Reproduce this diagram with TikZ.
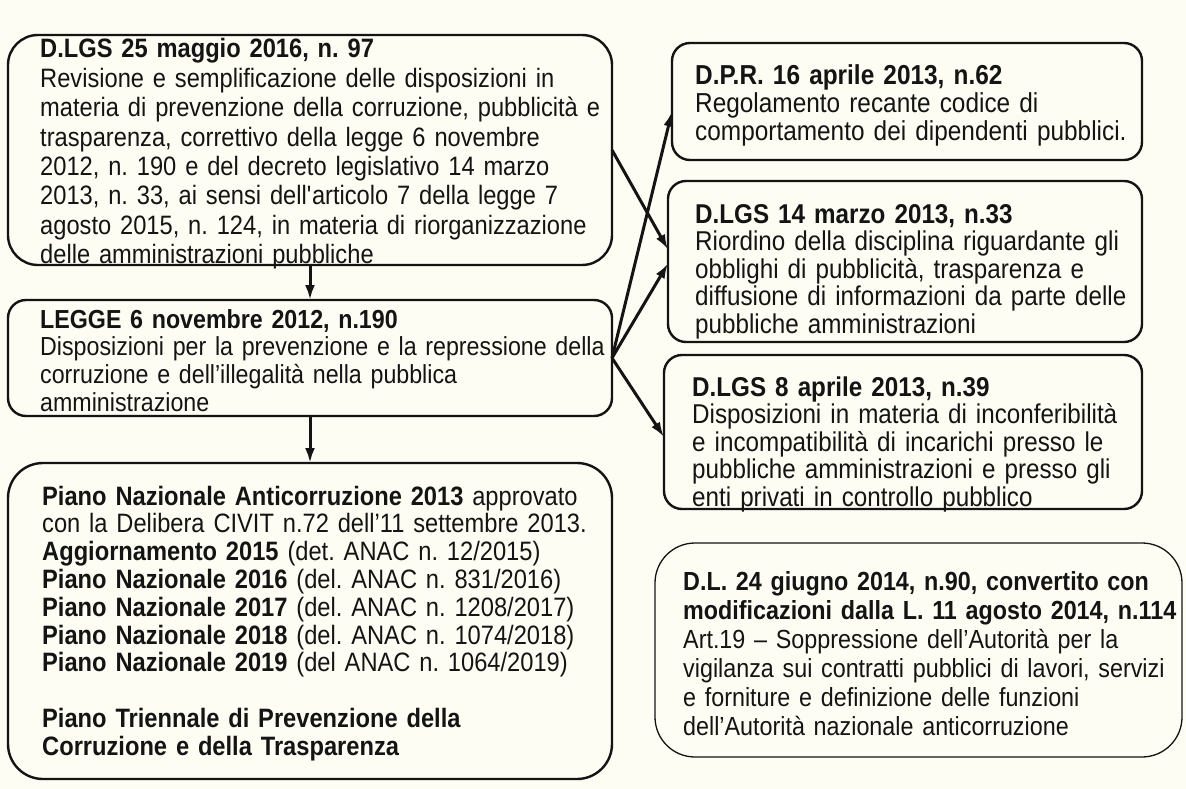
\documentclass[tikz,border=0pt]{standalone}
\usepackage{fontspec}
\setmainfont{Liberation Sans}[FakeStretch=0.89]
\usetikzlibrary{arrows.meta}
\definecolor{bgc}{RGB}{253,253,244}
\definecolor{ink}{RGB}{20,20,20}
\definecolor{headgray}{RGB}{110,110,110}
\frenchspacing
\begin{document}
\begin{tikzpicture}[x=1pt,y=-1pt,
  frame/.style={draw=ink, line width=2.4pt, anchor=north west, inner sep=0pt, outer sep=0pt},
  thinframe/.style={draw=ink, line width=1.3pt, anchor=north west, inner sep=0pt, outer sep=0pt},
  txt/.style={anchor=base west, inner sep=0pt, align=left, text=ink},
  arr/.style={draw=ink, line width=3pt, -{Latex[length=15pt,width=10pt]}},
  garr/.style={draw=ink, line width=3pt, -{Latex[length=15pt,width=10pt,fill=headgray]}}
]
\fill[bgc] (0,0) rectangle (1186,789);
\useasboundingbox (0,0) rectangle (1186,789);

% left column
\node[frame, rounded corners=30pt, minimum width=604pt, minimum height=230pt] (A) at (8,35) {};
\node[txt, text width=575pt, font=\fontsize{26.6}{29.4}\selectfont] (At) at (40,58) {\textbf{D.LGS 25 maggio 2016, n. 97}\\
Revisione e semplificazione delle disposizioni in\\
materia di prevenzione della corruzione, pubblicità e\\
trasparenza, correttivo della legge 6 novembre\\
2012, n. 190 e del decreto legislativo 14 marzo\\
2013, n. 33, ai sensi dell\textquotesingle articolo 7 della legge 7\\
agosto 2015, n. 124, in materia di riorganizzazione\\
delle amministrazioni pubbliche};

\node[frame, rounded corners=18pt, minimum width=604pt, minimum height=116pt] (B) at (8,300) {};
\node[txt, text width=575pt, font=\fontsize{26.1}{27.7}\selectfont] (Bt) at (40,328) {\textbf{LEGGE 6 novembre 2012, n.190}\\
Disposizioni per la prevenzione e la repressione della\\
corruzione e dell’illegalità nella pubblica\\
amministrazione};

\node[frame, rounded corners=35pt, minimum width=604pt, minimum height=316pt] (C) at (8,463) {};
\node[txt, text width=575pt, font=\fontsize{26.6}{27.8}\selectfont] (Ct) at (42,505) {\textbf{Piano Nazionale Anticorruzione 2013} approvato\\
con la Delibera CIVIT n.72 dell’11 settembre 2013.\\
\textbf{Aggiornamento 2015} (det. ANAC n. 12/2015)\\
\textbf{Piano Nazionale 2016} (del. ANAC n. 831/2016)\\
\textbf{Piano Nazionale 2017} (del. ANAC n. 1208/2017)\\
\textbf{Piano Nazionale 2018} (del. ANAC n. 1074/2018)\\
\textbf{Piano Nazionale 2019} (del ANAC n. 1064/2019)\\[27.8pt]
\textbf{Piano Triennale di Prevenzione della}\\
\textbf{Corruzione e della Trasparenza}};

% right column
\node[frame, rounded corners=18pt, minimum width=470pt, minimum height=117pt] (R1) at (672,43) {};
\node[txt, text width=445pt, font=\fontsize{27.4}{28}\selectfont] (R1t) at (695,85) {\textbf{D.P.R. 16 aprile 2013, n.62}\\
Regolamento recante codice di\\
comportamento dei dipendenti pubblici.};

\node[frame, rounded corners=18pt, minimum width=474pt, minimum height=161pt] (R2) at (668,181) {};
\node[txt, text width=445pt, font=\fontsize{27.2}{27.5}\selectfont] (R2t) at (695,223) {\textbf{D.LGS 14 marzo 2013, n.33}\\
Riordino della disciplina riguardante gli\\
obblighi di pubblicità, trasparenza e\\
diffusione di informazioni da parte delle\\
pubbliche amministrazioni};

\node[frame, rounded corners=18pt, minimum width=478pt, minimum height=154pt] (R3) at (664,355) {};
\node[txt, text width=445pt, font=\fontsize{27.2}{27.5}\selectfont] (R3t) at (692,396) {\textbf{D.LGS 8 aprile 2013, n.39}\\
Disposizioni in materia di inconferibilità\\
e incompatibilità di incarichi presso le\\
pubbliche amministrazioni e presso gli\\
enti privati in controllo pubblico};

\node[thinframe, rounded corners=40pt, minimum width=527pt, minimum height=214pt] (R4) at (655,543) {};
\node[txt, text width=505pt, font=\fontsize{26.2}{29}\selectfont] (R4t) at (683,590) {\textbf{D.L. 24 giugno 2014, n.90, convertito con}\\
\textbf{modificazioni dalla L. 11 agosto 2014, n.114}\\
Art.19 – Soppressione dell’Autorità per la\\
vigilanza sui contratti pubblici di lavori, servizi\\
e forniture e definizione delle funzioni\\
dell’Autorità nazionale anticorruzione};

% connectors
\draw[garr] (A.south) -- (B.north);
\draw[arr] (B.south) -- (C.north);
\draw[garr] (A.east) -- ([yshift=12pt]R2.west);
\draw[arr] (B.east) -- ([yshift=-10pt]R1.west);
\draw[arr] (B.east) -- ([yshift=-2pt]R2.west);
\draw[arr] (B.east) -- ([yshift=-5pt]R3.west);
\end{tikzpicture}
\end{document}
